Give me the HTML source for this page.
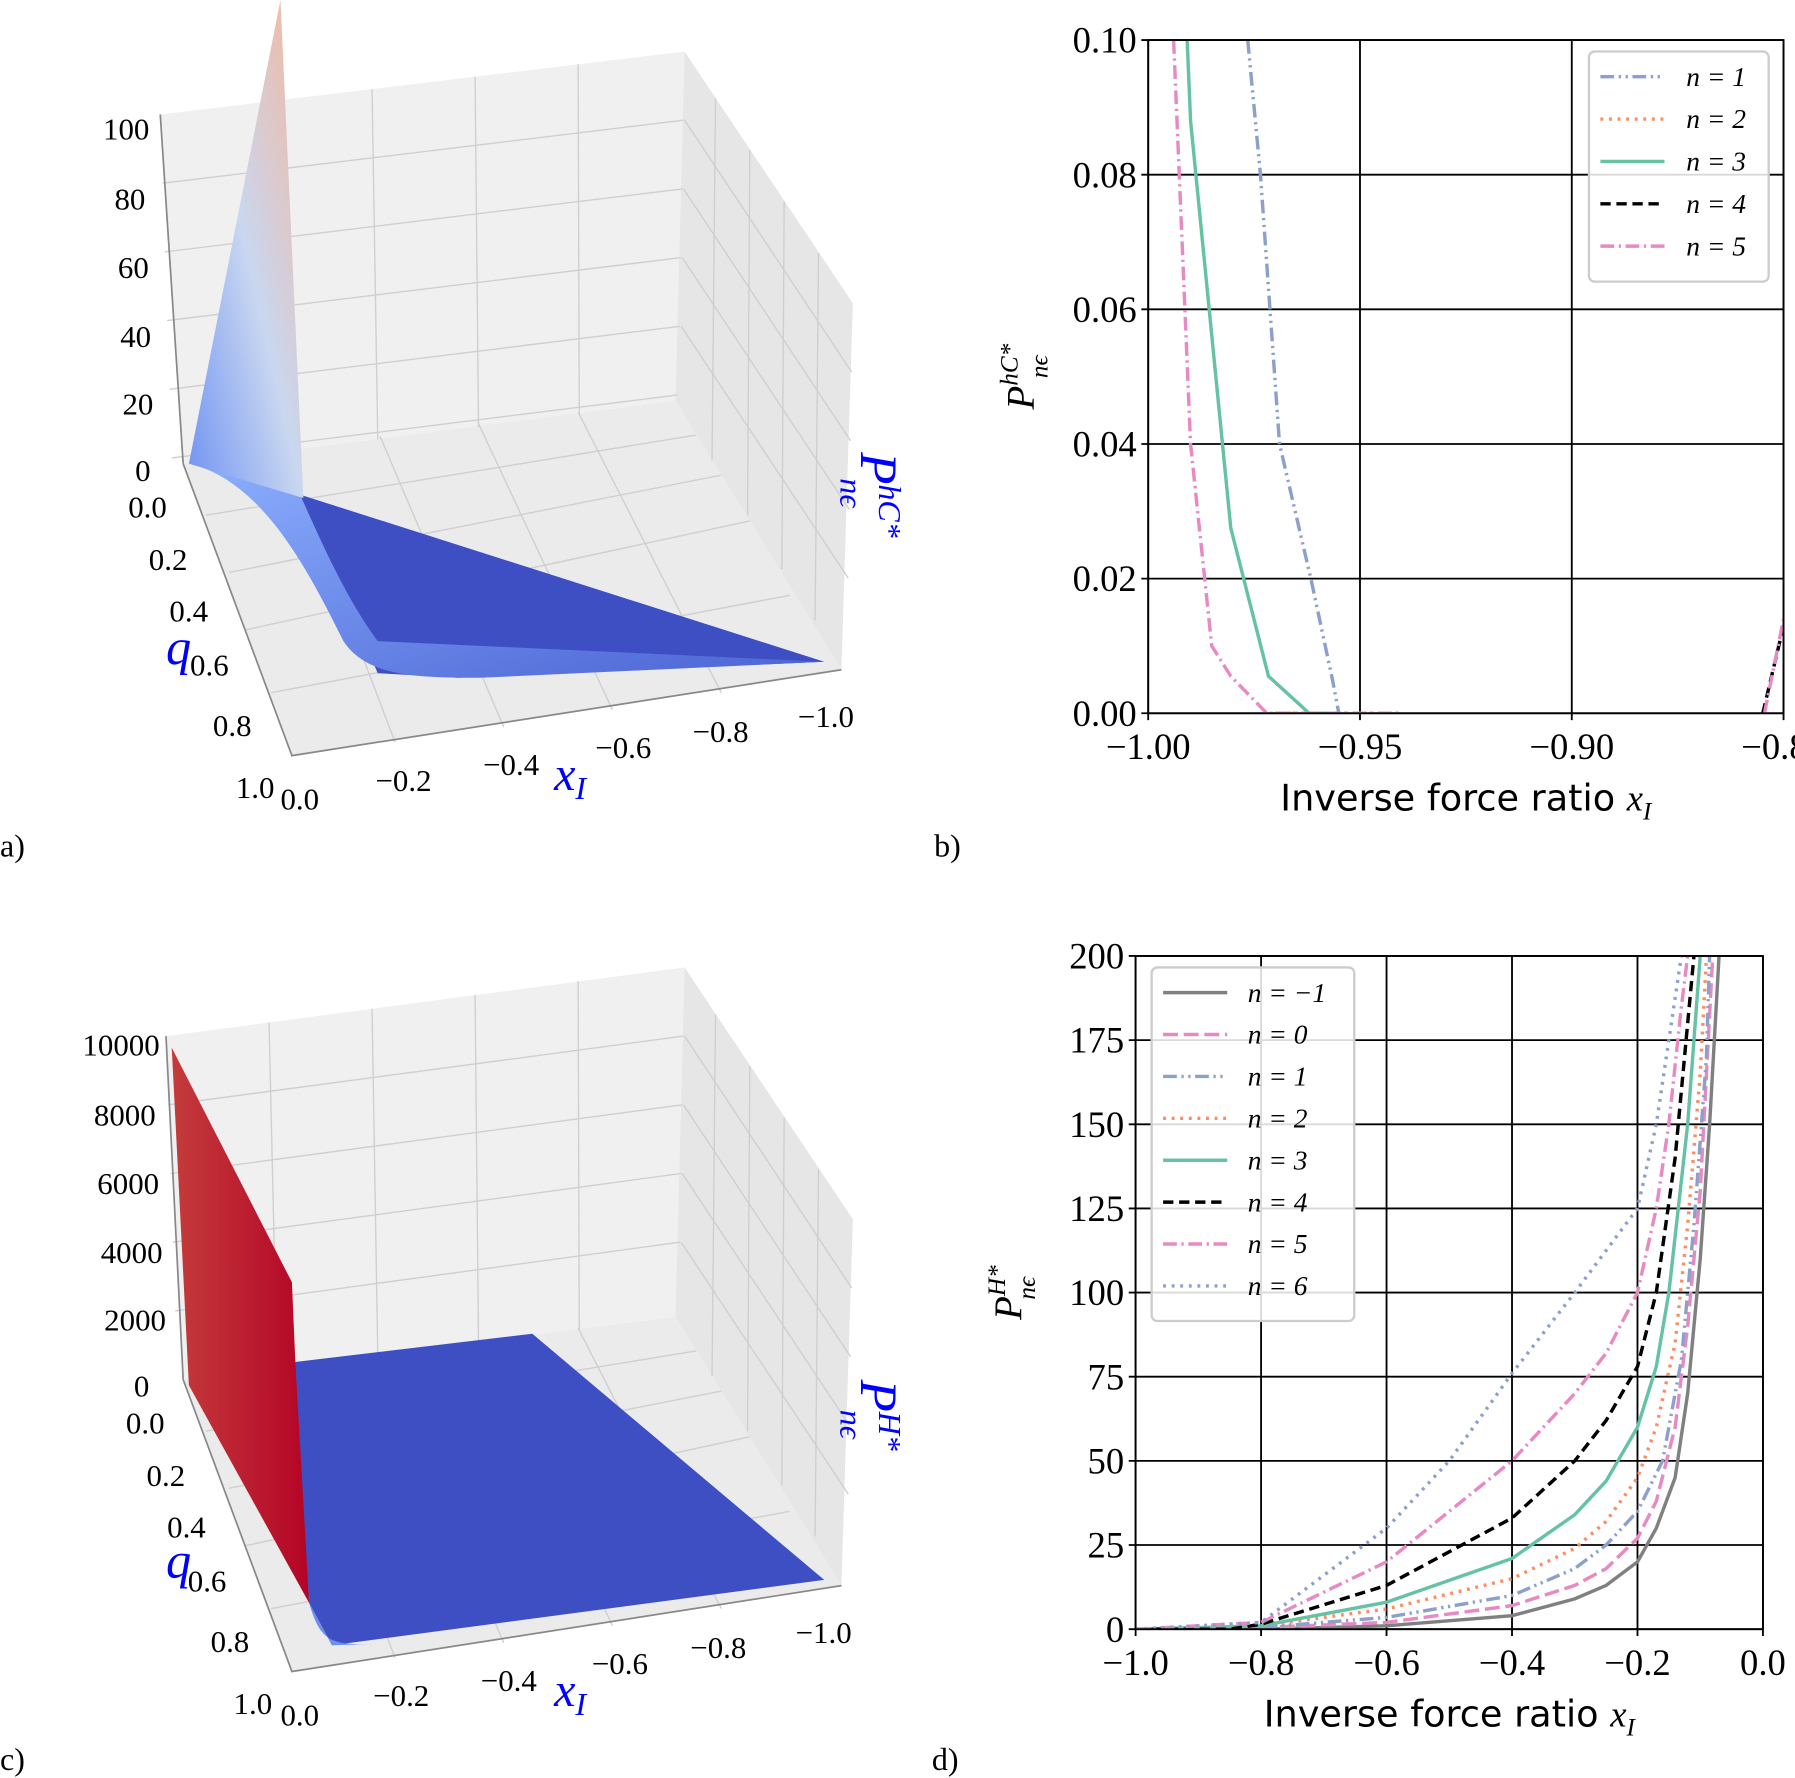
<!DOCTYPE html>
<html><head><meta charset="utf-8"><style>
html,body{margin:0;padding:0;background:#fff}
svg{display:block}
text{font-family:"Liberation Serif",serif;fill:#000}
.sans{font-family:"DejaVu Sans","Liberation Sans",sans-serif}
</style></head><body>
<svg id="fig" width="1795" height="1778" viewBox="0 0 1568 1553" preserveAspectRatio="none" xmlns="http://www.w3.org/2000/svg">
<defs>
<linearGradient id="spike" x1="0" y1="1" x2="1" y2="0"><stop offset="0" stop-color="#6f92f3"/><stop offset="0.5" stop-color="#c9d7f0"/><stop offset="1" stop-color="#f4b79c"/></linearGradient>
<linearGradient id="curve" x1="0" y1="0" x2="1" y2="1"><stop offset="0" stop-color="#8caffe"/><stop offset="1" stop-color="#4a63d3"/></linearGradient>
<linearGradient id="red" x1="0" y1="0" x2="1" y2="0"><stop offset="0" stop-color="#c43c3c"/><stop offset="1" stop-color="#b40426"/></linearGradient>
</defs>

<!-- Panel a -->
<g>
<polygon points="140,100 598,45 590,350 160,405" fill="#f0f0f0"/>
<polygon points="598,45 745,265 735,585 590,350" fill="#e6e6e6"/>
<polygon points="160,405 590,350 735,585 255,660" fill="#ebebeb"/>
<g stroke="#cfcfcf" stroke-width="1.2" fill="none">
<path d="M142,160 L597,105 M144,220 L596,165 M146,280 L595,225 M148,340 L594,285 M150,400 L592,345"/>
<path d="M235,89 L242,395 M325,78 L330,384 M415,67 L418,373 M505,56 L506,362"/>
<path d="M598,105 L744,325 M597,165 L743,385 M596,225 L742,445 M595,285 L741,505"/>
<path d="M625,86 L622,402 M655,131 L653,450 M685,176 L683,497 M715,221 L712,542"/>
<path d="M180,450 L608,380 M200,500 L630,415 M215,550 L655,455 M237,605 L690,520"/>
<path d="M345,648 L248,392 M440,635 L332,381 M535,620 L418,370 M630,605 L505,360"/>
</g>
<path d="M160,405 L255,660 L735,585" stroke="#888" stroke-width="1.5" fill="none"/>
<path d="M140,100 L160,405" stroke="#888" stroke-width="1.5" fill="none"/>
<polygon points="262,432 720,578 400,592 330,588" fill="#3d4fc2"/>
<path d="M165,405 C230,420 270,500 300,560 C320,590 360,592 420,592 L720,578 L330,560 C300,520 275,460 262,432 Z" fill="url(#curve)"/>
<polygon points="245,0 265,435 165,405" fill="url(#spike)"/>
<g font-size="27">
<text x="90" y="122">100</text><text x="100" y="183">80</text><text x="103" y="243">60</text><text x="105" y="303">40</text><text x="107" y="362">20</text><text x="118" y="420">0</text>
<text x="112" y="452">0.0</text><text x="130" y="498">0.2</text><text x="148" y="543">0.4</text><text x="166" y="590">0.6</text><text x="186" y="643">0.8</text><text x="206" y="697">1.0</text>
<text x="245" y="707">0.0</text><text x="328" y="691">−0.2</text><text x="422" y="677">−0.4</text><text x="520" y="662">−0.6</text><text x="605" y="648">−0.8</text><text x="697" y="635">−1.0</text>
</g>
<text x="145" y="580" font-size="44" font-style="italic" style="fill:#0000ff">q</text>
<text x="484" y="690" font-size="42" font-style="italic" style="fill:#0000ff">x<tspan font-size="28" dy="8">I</tspan></text>
<text transform="translate(752,395) rotate(90)" font-size="46" font-style="italic" style="fill:#0000ff">P<tspan font-size="28" dy="-16">hC*</tspan><tspan font-size="28" dx="-52" dy="34">nϵ</tspan></text>
</g>

<!-- Panel c -->
<g>
<polygon points="145,905 598,845 590,1150 160,1205" fill="#f0f0f0"/>
<polygon points="598,845 745,1065 735,1385 590,1150" fill="#e6e6e6"/>
<polygon points="160,1205 590,1150 735,1385 255,1460" fill="#ebebeb"/>
<g stroke="#cfcfcf" stroke-width="1.2" fill="none">
<path d="M147,965 L597,905 M149,1025 L596,965 M151,1085 L595,1025 M153,1145 L594,1085"/>
<path d="M235,893 L242,1195 M325,881 L330,1184 M415,869 L418,1173 M505,857 L506,1162"/>
<path d="M598,905 L744,1125 M597,965 L743,1185 M596,1025 L742,1245 M595,1085 L741,1305"/>
<path d="M625,886 L622,1202 M655,931 L653,1250 M685,976 L683,1297 M715,1021 L712,1342"/>
<path d="M180,1250 L608,1180 M200,1300 L630,1215 M215,1350 L655,1255 M237,1405 L690,1320"/>
<path d="M345,1448 L248,1192 M440,1435 L332,1181 M535,1420 L418,1170 M630,1405 L505,1160"/>
</g>
<path d="M160,1205 L255,1460 L735,1385" stroke="#888" stroke-width="1.5" fill="none"/>
<path d="M145,905 L160,1205" stroke="#888" stroke-width="1.5" fill="none"/>
<polygon points="255,1190 465,1165 720,1380 290,1437 270,1400" fill="#3d4fc2"/>
<path d="M270,1400 C280,1435 290,1437 330,1436 L290,1437 Z" fill="#6f8ff0"/>
<polygon points="150,915 255,1120 258,1190 270,1400 165,1210" fill="url(#red)"/>
<g font-size="27">
<text x="72" y="922">10000</text><text x="82" y="983">8000</text><text x="85" y="1043">6000</text><text x="88" y="1103">4000</text><text x="91" y="1162">2000</text><text x="117" y="1220">0</text>
<text x="110" y="1252">0.0</text><text x="128" y="1298">0.2</text><text x="146" y="1343">0.4</text><text x="164" y="1390">0.6</text><text x="184" y="1443">0.8</text><text x="204" y="1497">1.0</text>
<text x="245" y="1507">0.0</text><text x="326" y="1490">−0.2</text><text x="420" y="1477">−0.4</text><text x="517" y="1462">−0.6</text><text x="603" y="1448">−0.8</text><text x="695" y="1435">−1.0</text>
</g>
<text x="145" y="1378" font-size="44" font-style="italic" style="fill:#0000ff">q</text>
<text x="484" y="1490" font-size="42" font-style="italic" style="fill:#0000ff">x<tspan font-size="28" dy="8">I</tspan></text>
<text transform="translate(752,1205) rotate(90)" font-size="46" font-style="italic" style="fill:#0000ff">P<tspan font-size="28" dy="-16">H*</tspan><tspan font-size="28" dx="-36" dy="34">nϵ</tspan></text>
</g>

<g font-size="28">
<text x="0" y="748">a)</text>
<text x="816" y="748">b)</text>
<text x="0" y="1546">c)</text>
<text x="814" y="1546">d)</text>
</g>
<g id="chartB"></g>
<g id="chartD"></g>
</svg>
<script>
const NS="http://www.w3.org/2000/svg";
// ---- Panel b data ----
const bXTicks=[-1.00,-0.95,-0.90,-0.85];
const bYTicks=[0.00,0.02,0.04,0.06,0.08,0.10];
const bNames=["n = 1","n = 2","n = 3","n = 4","n = 5"];
const bN1=[[-0.9765,0.1],[-0.9735,0.08],[-0.969,0.04],[-0.9616,0.02],[-0.9565,0.005],[-0.955,0]];
const bN2=[[-0.97,0],[-0.94,0]];
const bN3=[[-0.9908,0.1],[-0.990,0.088],[-0.9805,0.0275],[-0.9716,0.0055],[-0.962,0],[-0.955,0]];
const bN4=[[-0.8549,0],[-0.85,0.013]];
const bN5=[[-0.994,0.1],[-0.990,0.04],[-0.985,0.01],[-0.9805,0.0055],[-0.972,0],[-0.94,0]];
const bN5b=[[-0.8545,0],[-0.85,0.014]];
// ---- Panel d data ----
const dXTicks=[-1.0,-0.8,-0.6,-0.4,-0.2,0.0];
const dYTicks=[0,25,50,75,100,125,150,175,200];
const dNames=["n = −1","n = 0","n = 1","n = 2","n = 3","n = 4","n = 5","n = 6"];
const dNm1=[[-1,0],[-0.8,0],[-0.6,1],[-0.4,4],[-0.3,9],[-0.25,13],[-0.2,20],[-0.17,30],[-0.14,45],[-0.12,70],[-0.1,110],[-0.085,150],[-0.07,200]];
const dN0=[[-1,0],[-0.8,0.5],[-0.6,2],[-0.4,7],[-0.3,13],[-0.25,18],[-0.2,27],[-0.17,38],[-0.14,60],[-0.12,90],[-0.1,130],[-0.08,200]];
const dN1=[[-1,0],[-0.8,0.5],[-0.6,3.5],[-0.4,10],[-0.3,18],[-0.25,25],[-0.2,35],[-0.16,50],[-0.13,80],[-0.11,120],[-0.09,170],[-0.085,200]];
const dN2=[[-1,0],[-0.8,1],[-0.6,6],[-0.4,15],[-0.3,24],[-0.25,32],[-0.2,45],[-0.17,60],[-0.14,85],[-0.12,120],[-0.1,165],[-0.09,200]];
const dN3=[[-1,0],[-0.8,1],[-0.6,8],[-0.4,21],[-0.3,34],[-0.25,44],[-0.2,60],[-0.17,78],[-0.15,100],[-0.12,150],[-0.1,200]];
const dN4=[[-1,0],[-0.85,0],[-0.8,1.5],[-0.6,13],[-0.4,33],[-0.3,50],[-0.25,62],[-0.2,78],[-0.17,100],[-0.14,140],[-0.12,180],[-0.11,200]];
const dN5=[[-1,0],[-0.8,2],[-0.6,20],[-0.4,50],[-0.3,70],[-0.25,82],[-0.2,100],[-0.17,125],[-0.15,150],[-0.13,185],[-0.12,200]];
const dN6=[[-1,0],[-0.8,2],[-0.6,30],[-0.5,50],[-0.4,76],[-0.3,100],[-0.2,125],[-0.17,150],[-0.15,175],[-0.13,200]];

const ST={gray:["#808080",""],pinkDash:["#e78ac3","13,5"],blueDD:["#8da0cb","12,4,2,4,2,4"],orangeDot:["#fc8d62","2.5,5"],green:["#66c2a5",""],blackDash:["#000","9,5"],pinkDD:["#e78ac3","12,4,2,4"],blueDot:["#8da0cb","2.5,5"]};

function el(parent,tag,attrs,txt){const e=document.createElementNS(NS,tag);for(const k in attrs)e.setAttribute(k,attrs[k]);if(txt!==undefined)e.textContent=txt;parent.appendChild(e);return e;}

function chart(g,L,R,T,B,x0,x1,y0,y1,xt,yt,xfmt,yfmt,series,names,styles,leg,ylab){
  const sx=v=>L+(v-x0)/(x1-x0)*(R-L), sy=v=>B-(v-y0)/(y1-y0)*(B-T);
  xt.forEach(v=>{const l=el(g,"line",{x1:sx(v),x2:sx(v),y1:T,y2:B+6,stroke:"#000","stroke-width":1.6});
    
    
    const t=el(g,"text",{x:sx(v),y:B+40,"font-size":32,"text-anchor":"middle"},xfmt(v));
    
    });
  yt.forEach(v=>{const l=el(g,"line",{x1:L-6,x2:R,y1:sy(v),y2:sy(v),stroke:"#000","stroke-width":1.6});
    
    
    const t=el(g,"text",{x:L-10,y:sy(v)+11,"font-size":32,"text-anchor":"end"},yfmt(v));
    
    });
  const cp=el(g,"clipPath",{id:"cp"+L+T});el(cp,"rect",{x:L,y:T-2,width:R-L,height:B-T+2});
  series.forEach((s,i)=>{const st=styles[i];
    const p=el(g,"polyline",{points:s.map(d=>sx(d[0])+","+sy(d[1])).join(" "),fill:"none",stroke:st[0],"stroke-width":3,"stroke-dasharray":st[1],"clip-path":"url(#cp"+L+T+")"});
    
    });
  const fr=el(g,"rect",{x:L,y:T,width:R-L,height:B-T,fill:"none",stroke:"#000","stroke-width":1.6});
  
  
  const lg=el(g,"g",{});
  
  
  el(lg,"rect",{x:leg.x,y:leg.y,width:leg.w,height:names.length*leg.h+16,rx:5,fill:"#fff","fill-opacity":0.85,stroke:"#ccc","stroke-width":2});
  names.forEach((n,i)=>{const y=leg.y+22+i*leg.h;const st=leg.styles[i];
    const e=el(lg,"line",{x1:leg.x+10,x2:leg.x+66,y1:y,y2:y,stroke:st[0],"stroke-width":3,"stroke-dasharray":st[1]});
    
    
    el(lg,"text",{x:leg.x+leg.tx,y:y+8,"font-size":24,"font-style":"italic"},n);});
  const xl=el(g,"text",{x:(L+R)/2,y:B+85,"font-size":32,"text-anchor":"middle",class:"sans"});
  xl.textContent="Inverse force ratio ";
  el(xl,"tspan",{"font-family":"Liberation Serif","font-style":"italic"},"x");
  el(xl,"tspan",{"font-family":"Liberation Serif","font-style":"italic","font-size":22,dy:8},"I");
  
  
  const yl=el(g,"text",{transform:"translate("+(L-100)+","+((T+B)/2)+") rotate(-90)","font-size":34,"font-style":"italic","text-anchor":"middle"});
  yl.textContent="P";
  el(yl,"tspan",{"font-size":22,dy:-14},ylab);
  el(yl,"tspan",{"font-size":22,dy:26,dx:-30},"nϵ");
  
  
}
const f2=v=>(v<0?"−":"")+Math.abs(v).toFixed(2);
const f1=v=>(v<0?"−":"")+Math.abs(v).toFixed(1);
chart(document.getElementById("chartB"),1003,1558,35,623,-1,-0.85,0,0.1,bXTicks,bYTicks,f2,v=>v.toFixed(2),
 [bN1,bN2,bN3,bN4,bN5,bN5b],bNames,[ST.blueDD,ST.orangeDot,ST.green,ST.blackDash,ST.pinkDD,ST.pinkDD],
 {x:1388,y:45,w:157,h:37,tx:85,styles:[ST.blueDD,ST.orangeDot,ST.green,ST.blackDash,ST.pinkDD]},"hC*");
chart(document.getElementById("chartD"),992,1540,835,1423,-1,0,0,200,dXTicks,dYTicks,f1,v=>String(v),
 [dNm1,dN0,dN1,dN2,dN3,dN4,dN5,dN6],dNames,[ST.gray,ST.pinkDash,ST.blueDD,ST.orangeDot,ST.green,ST.blackDash,ST.pinkDD,ST.blueDot],
 {x:1006,y:845,w:177,h:36.6,tx:84,styles:[ST.gray,ST.pinkDash,ST.blueDD,ST.orangeDot,ST.green,ST.blackDash,ST.pinkDD,ST.blueDot]},"H*");
</script>
</body></html>
